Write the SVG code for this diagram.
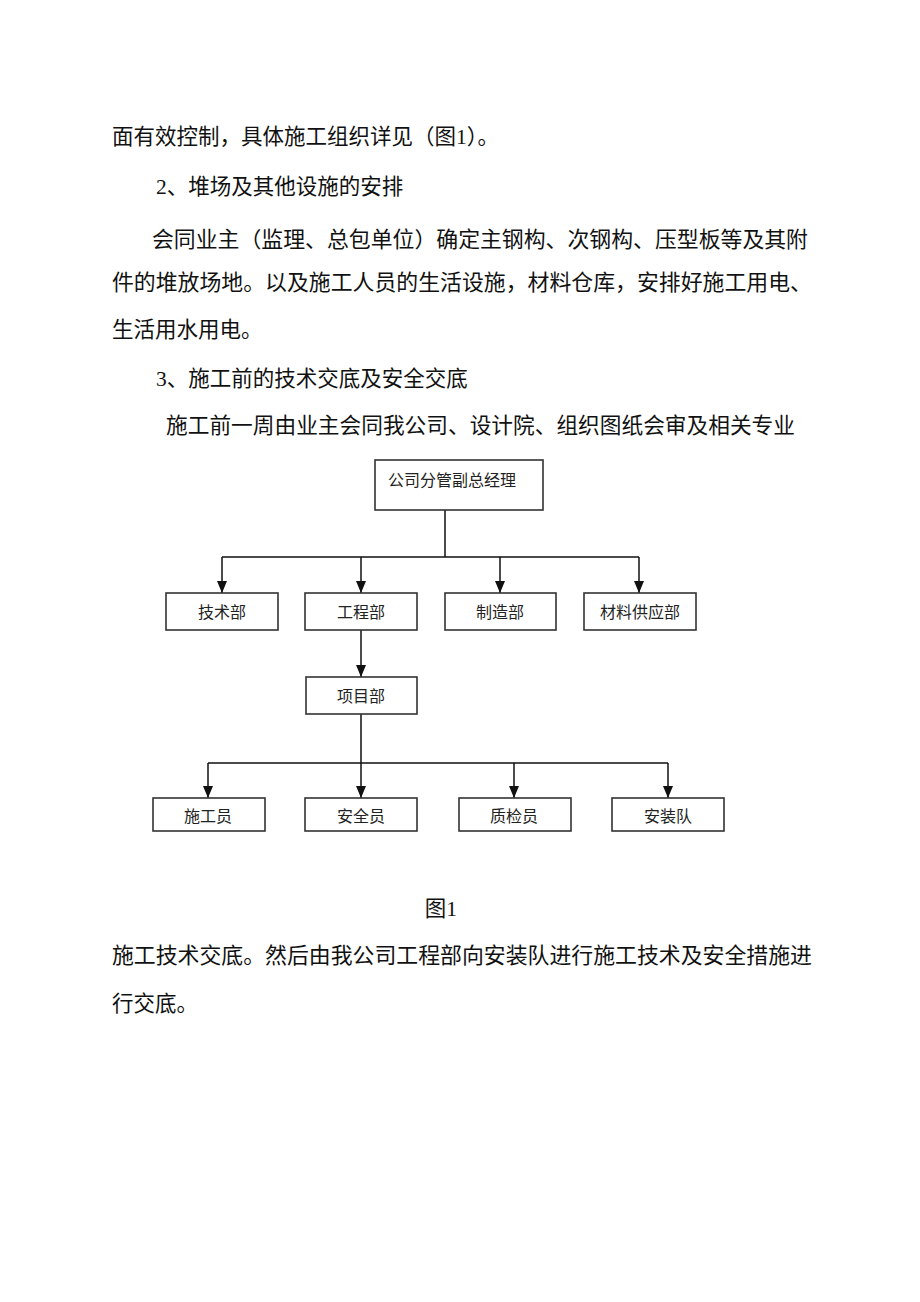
<svg xmlns="http://www.w3.org/2000/svg" width="920" height="1302" viewBox="0 0 920 1302">
<style>
.body{font-family:"Liberation Serif","Noto Sans CJK SC",serif;font-size:21.5px;fill:#111}
.box{fill:#fff;stroke:#333;stroke-width:1.6}
.lbl{font-family:"Liberation Serif","Noto Sans CJK SC",serif;font-size:16px;fill:#222;text-anchor:middle}
.con{fill:none;stroke:#111;stroke-width:1.5}
</style>
<defs>
<marker id="arr" markerWidth="12" markerHeight="10" refX="12" refY="5" orient="auto" markerUnits="userSpaceOnUse" viewBox="0 0 12 10">
<path d="M0,0 L12,5 L0,10 Z" fill="#111"/>
</marker>
</defs>
<rect width="920" height="1302" fill="#fff"/>
<g id="text">
<text class="body" x="112" y="144">面有效控制，具体施工组织详见（图1）。</text>
<text class="body" x="156" y="194">2、堆场及其他设施的安排</text>
<text class="body" x="152" y="247" textLength="656" lengthAdjust="spacingAndGlyphs">会同业主（监理、总包单位）确定主钢构、次钢构、压型板等及其附</text>
<text class="body" x="112" y="290" textLength="700" lengthAdjust="spacingAndGlyphs">件的堆放场地。以及施工人员的生活设施，材料仓库，安排好施工用电、</text>
<text class="body" x="112" y="337">生活用水用电。</text>
<text class="body" x="156" y="386">3、施工前的技术交底及安全交底</text>
<text class="body" x="166" y="433" textLength="629" lengthAdjust="spacingAndGlyphs">施工前一周由业主会同我公司、设计院、组织图纸会审及相关专业</text>
<text class="body" x="441" y="916" text-anchor="middle">图1</text>
<text class="body" x="112" y="963" textLength="700" lengthAdjust="spacingAndGlyphs">施工技术交底。然后由我公司工程部向安装队进行施工技术及安全措施进</text>
<text class="body" x="112" y="1011">行交底。</text>
</g>
<g id="connectors">
<path class="con" d="M445,510 V557 M222,557 H639"/>
<path class="con" d="M222,557 V593" marker-end="url(#arr)"/>
<path class="con" d="M361,557 V593" marker-end="url(#arr)"/>
<path class="con" d="M500,557 V593" marker-end="url(#arr)"/>
<path class="con" d="M639,557 V593" marker-end="url(#arr)"/>
<path class="con" d="M361,630 V677" marker-end="url(#arr)"/>
<path class="con" d="M361,714 V763 M208,763 H668"/>
<path class="con" d="M208,763 V798" marker-end="url(#arr)"/>
<path class="con" d="M361,763 V798" marker-end="url(#arr)"/>
<path class="con" d="M514,763 V798" marker-end="url(#arr)"/>
<path class="con" d="M668,763 V798" marker-end="url(#arr)"/>
</g>
<g id="n-top"><rect class="box" x="375" y="460" width="168" height="50"/><text class="lbl" x="388" y="486" style="text-anchor:start">公司分管副总经理</text></g>
<g id="n-tech"><rect class="box" x="166" y="593" width="112" height="37"/><text class="lbl" x="222" y="618">技术部</text></g>
<g id="n-eng"><rect class="box" x="305" y="593" width="112" height="37"/><text class="lbl" x="361" y="618">工程部</text></g>
<g id="n-mfg"><rect class="box" x="445" y="593" width="111" height="37"/><text class="lbl" x="500" y="618">制造部</text></g>
<g id="n-mat"><rect class="box" x="584" y="593" width="112" height="37"/><text class="lbl" x="640" y="618">材料供应部</text></g>
<g id="n-proj"><rect class="box" x="306" y="677" width="111" height="37"/><text class="lbl" x="361" y="702">项目部</text></g>
<g id="n-con"><rect class="box" x="153" y="798" width="112" height="33"/><text class="lbl" x="208" y="822">施工员</text></g>
<g id="n-safe"><rect class="box" x="305" y="798" width="112" height="33"/><text class="lbl" x="361" y="822">安全员</text></g>
<g id="n-qc"><rect class="box" x="459" y="798" width="112" height="33"/><text class="lbl" x="514" y="822">质检员</text></g>
<g id="n-inst"><rect class="box" x="612" y="798" width="112" height="33"/><text class="lbl" x="668" y="822">安装队</text></g>
</svg>
